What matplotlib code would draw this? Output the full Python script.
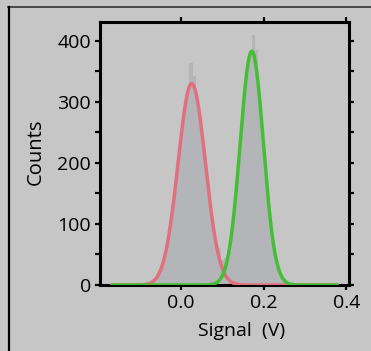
import matplotlib
matplotlib.use("Agg")
import matplotlib.pyplot as plt
from matplotlib.lines import Line2D
from matplotlib.ticker import MultipleLocator, FixedLocator
import numpy as np

# ---- data ----
bin_start = -0.099
bin_width = 0.0075
counts = [0, 1, 2, 4, 7, 12, 23, 35, 58, 85, 122, 160, 210, 250, 292, 316,
          363, 343, 300, 272, 226, 185, 138,
          103, 70, 60, 41, 44, 57, 88, 126, 183, 240,
          305, 348, 378, 410, 385, 308, 250, 188, 130, 87, 55, 28, 16, 7, 3, 1, 0]

# Gaussian fit parameters (amplitude, centre, sigma)
fit_red = (330, 0.0265, 0.033)
fit_green = (383, 0.1715, 0.028)
fit_range = (-0.166, 0.378)

x_ticks = [0.0, 0.2, 0.4]
x_ticklabels = ["0.0", "0.2", "0.4"]
y_ticks = [0, 100, 200, 300, 400]

bg = "#c6c6c6"
bar_color = "#b4b5b9"
red = "#e0707e"
green = "#45bd35"

plt.rcParams["font.family"] = ["Open Sans", "DejaVu Sans"]

fig = plt.figure(figsize=(3.71, 3.51), dpi=100, facecolor=bg)
ax = fig.add_axes([100 / 371, 1 - 285 / 351, 248.5 / 371, 263 / 351])
ax.set_facecolor(bg)

edges = bin_start + bin_width * np.arange(len(counts) + 1)
ax.bar(edges[:-1], counts, width=bin_width, align="edge", color=bar_color,
       linewidth=0, zorder=1)

xs = np.linspace(fit_range[0], fit_range[1], 800)
for (a, m, s), c in ((fit_red, red), (fit_green, green)):
    ax.plot(xs, a * np.exp(-0.5 * ((xs - m) / s) ** 2), color=c, lw=2.5,
            zorder=3, solid_capstyle="round")

ax.set_xlim(-0.195, 0.405)
ax.set_ylim(0, 431)

ax.xaxis.set_major_locator(FixedLocator(x_ticks))
ax.set_xticklabels(x_ticklabels)
ax.yaxis.set_major_locator(FixedLocator(y_ticks))
ax.yaxis.set_minor_locator(MultipleLocator(50))

for sp in ax.spines.values():
    sp.set_linewidth(2.2)
    sp.set_color("black")

ax.tick_params(axis="x", which="major", direction="out", length=3.5, width=1.6,
               top=True, bottom=True, labelsize=14, pad=3)
ax.tick_params(axis="y", which="both", direction="out", length=3.5, width=1.6,
               left=True, right=True, labelsize=14, pad=3)
ax.tick_params(axis="y", which="minor", labelleft=False)

ax.set_xlabel("Signal  (V)", fontsize=14)
ax.set_ylabel("Counts", fontsize=14.5)
ax.xaxis.set_label_coords(0.568, -0.141)
ax.yaxis.set_label_coords(-0.218, 0.506)

# outer frame lines
fig.add_artist(Line2D([8 / 371, 1.0], [1 - 6.5 / 351, 1 - 6.5 / 351],
                      transform=fig.transFigure, color="#333333", lw=1.2))
fig.add_artist(Line2D([9 / 371, 9 / 371], [0, 1 - 6.5 / 351],
                      transform=fig.transFigure, color="black", lw=1.6))

fig.savefig("out.png", dpi=100, facecolor=bg)
